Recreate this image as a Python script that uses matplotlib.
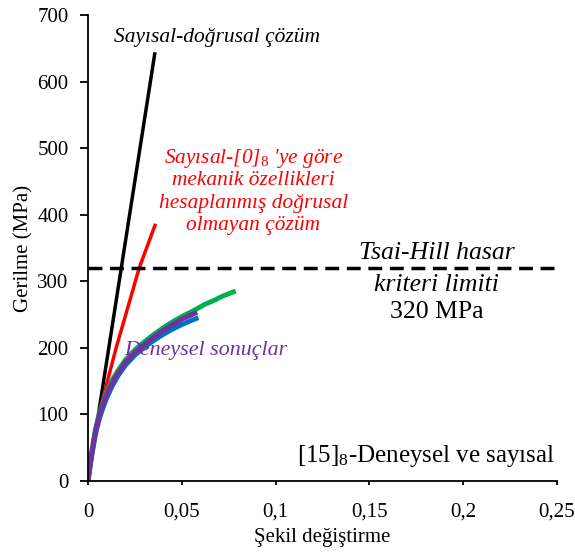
import matplotlib
matplotlib.use("Agg")
import matplotlib.pyplot as plt

plt.rcParams['font.family'] = ['Liberation Serif', 'DejaVu Serif']
plt.rcParams['mathtext.fontset'] = 'custom'
plt.rcParams['mathtext.rm'] = 'Liberation Serif'
plt.rcParams['mathtext.it'] = 'Liberation Serif:italic'

# Data (strain, stress MPa)
lin_x = [0.0, 0.0357]
lin_y = [0.0, 644.0]

red_x = [0.0, 0.0035, 0.0073, 0.015, 0.0273, 0.0357]
red_y = [0.0, 62.0, 117.0, 200.0, 320.0, 384.0]

green_x = [0.0, 0.002, 0.004, 0.006, 0.008, 0.010, 0.013, 0.016, 0.020, 0.025, 0.030, 0.035,
           0.040, 0.045, 0.050, 0.057, 0.062, 0.067, 0.072, 0.0775]
green_y = [0.0, 44.0, 78.0, 101.0, 119.0, 134.0, 152.0, 166.0, 182.0, 197.0, 209.0, 220.0,
           230.0, 239.0, 247.0, 257.0, 265.0, 271.0, 278.0, 284.0]

purple_x = [0.0, 0.002, 0.004, 0.006, 0.008, 0.010, 0.013, 0.016, 0.020, 0.025, 0.030, 0.035,
            0.040, 0.045, 0.050, 0.057]
purple_y = [0.0, 42.0, 75.0, 98.0, 115.0, 130.0, 148.0, 162.0, 178.0, 193.0, 205.0, 216.0,
            226.0, 235.0, 243.0, 252.0]

blue_x = [0.0, 0.002, 0.004, 0.006, 0.008, 0.010, 0.013, 0.016, 0.020, 0.025, 0.030, 0.035,
          0.040, 0.045, 0.050, 0.0576]
blue_y = [0.0, 38.0, 70.0, 93.0, 110.0, 125.0, 143.0, 158.0, 174.0, 189.0, 201.0, 211.0,
          220.0, 228.0, 235.0, 244.0]

limit = 320.0

xticks = [0, 0.05, 0.1, 0.15, 0.2, 0.25]
xticklabels = ['0', '0,05', '0,1', '0,15', '0,2', '0,25']
yticks = [0, 100, 200, 300, 400, 500, 600, 700]

red_lines = ['Sayısal-[0]$_8$ \'ye göre', 'mekanik özellikleri',
             'hesaplanmış doğrusal', 'olmayan çözüm']
red_baselines = [478, 444, 410, 377]
limit_lines = ['Tsai-Hill hasar', 'kriteri limiti', '320 MPa']
limit_baselines = [333, 285, 245]
limit_styles = ['italic', 'italic', 'normal']

fig = plt.figure(figsize=(5.75, 5.52), dpi=100)
ax = fig.add_axes([88/575, 1-481/552, (557-88)/575, (481-15)/552])

ax.plot(lin_x, lin_y, color='black', lw=2.5, solid_capstyle='butt')
ax.plot(red_x, red_y, color='#ff0000', lw=2.5)
ax.plot(green_x, green_y, color='#00b050', lw=3.5)
ax.plot(blue_x, blue_y, color='#0070c0', lw=3.5)
ax.plot(purple_x, purple_y, color='#7030a0', lw=3.5)
ax.plot([0, 0.25], [limit, limit], color='black', lw=2.5, dashes=(4, 2.2))

ax.set_xlim(0, 0.25)
ax.set_ylim(0, 700)
ax.set_xticks(xticks)
ax.set_xticklabels(xticklabels)
ax.set_yticks(yticks)
ax.tick_params(axis='x', labelsize=15, direction='out', length=3, width=1.3, pad=12.5)
ax.tick_params(axis='y', labelsize=15, direction='out', length=5.5, width=1.3, pad=8.5)
for s in ['top', 'right']:
    ax.spines[s].set_visible(False)
for s in ['left', 'bottom']:
    ax.spines[s].set_linewidth(1.3)

ax.set_xlabel('Şekil değiştirme', fontsize=15, labelpad=5)
ax.set_ylabel('Gerilme (MPa)', fontsize=15, labelpad=3)

ax.text(0.069, 660, 'Sayısal-doğrusal çözüm', style='italic', fontsize=15.5, ha='center', va='baseline')
for txt, yb in zip(red_lines, red_baselines):
    ax.text(0.0882, yb, txt, style='italic', fontsize=15.4, ha='center', va='baseline', color='#ff0000')
for txt, yb, st in zip(limit_lines, limit_baselines, limit_styles):
    ax.text(0.186, yb, txt, style=st, fontsize=18.5, ha='center', va='baseline')
ax.text(0.063, 189, 'Deneysel sonuçlar', style='italic', fontsize=15.8, ha='center', va='baseline', color='#7030a0')
ax.text(0.180, 29, '[15]$_8$-Deneysel ve sayısal', fontsize=18, ha='center', va='baseline')

fig.savefig('out.png', dpi=100)
